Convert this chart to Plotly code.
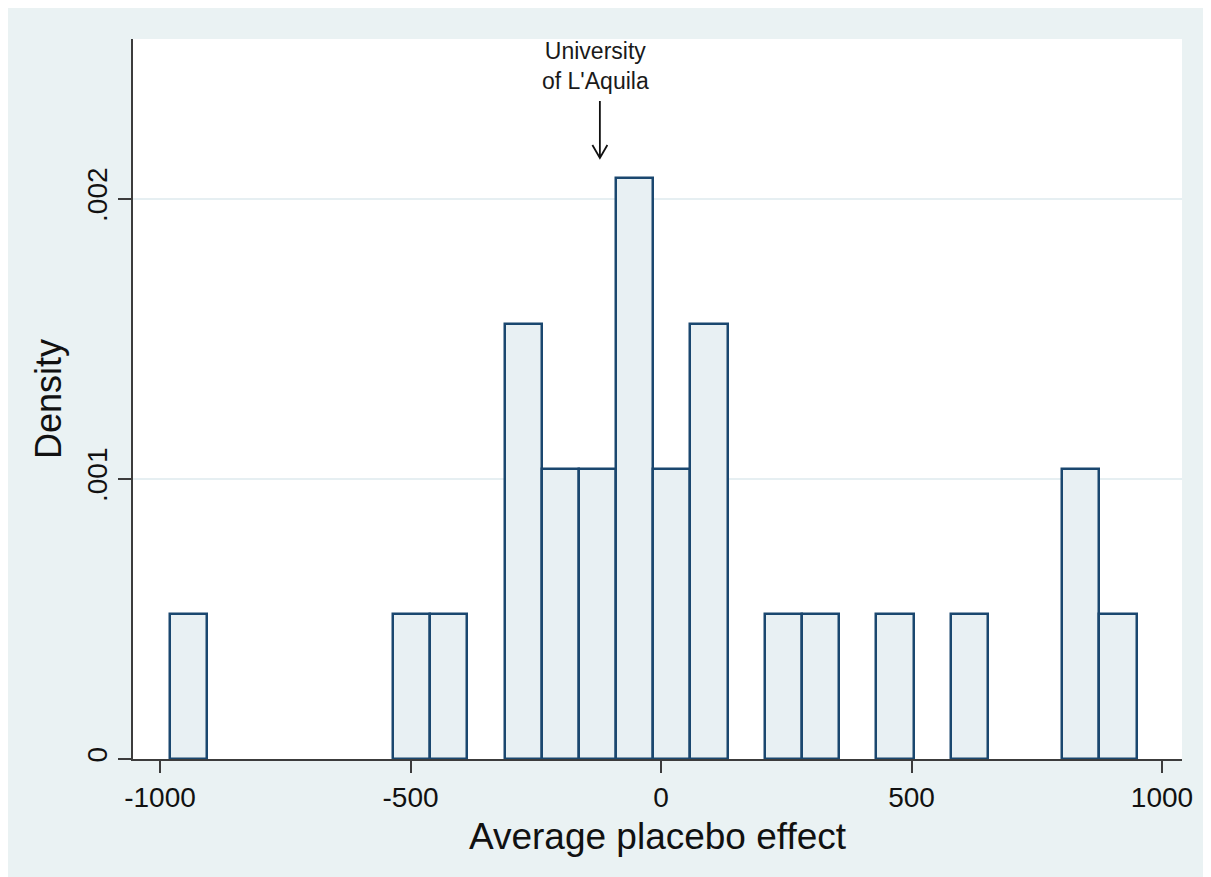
import plotly.graph_objects as go

# ---- data ----
bin_width = 74.2
bin_centers = [-942.9, -497.7, -423.5, -275.1, -200.9, -126.7, -52.5, 21.7,
               95.9, 244.3, 318.5, 466.9, 615.3, 837.9, 912.1]
densities = [0.000518, 0.000518, 0.000518, 0.001555, 0.001037, 0.001037,
             0.002073, 0.001037, 0.001555, 0.000518, 0.000518, 0.000518,
             0.000518, 0.001037, 0.000518]

x_tickvals = [-1000, -500, 0, 500, 1000]
x_ticktext = ["-1000", "-500", "0", "500", "1000"]
y_tickvals = [0, 0.001, 0.002]
y_ticktext = ["0", ".001", ".002"]

label_text = "University<br>of L'Aquila"
label_x = -130
label_y = 0.002475
arrow_x = -122
arrow_tip_y = 0.002146

BG = "#EAF2F3"
NAVY = "#1A476F"
AXIS = "#3c3c3c"
FONT = "Liberation Sans, Arial, sans-serif"

fig = go.Figure()
fig.add_trace(go.Bar(
    x=bin_centers, y=densities, width=bin_width,
    marker=dict(color="#E8F0F3", line=dict(color=NAVY, width=2.5)),
    showlegend=False, hoverinfo="x+y",
))

# arrow (open V head) pointing at the bar
fig.add_shape(type="path", xref="x", yref="y",
              xsizemode="pixel", ysizemode="pixel",
              xanchor=arrow_x, yanchor=arrow_tip_y,
              path="M0,0 L0,57 M-7.5,13 L0,0 L7.5,13",
              line=dict(color="#111111", width=1.8), layer="above")

fig.add_annotation(x=label_x, y=label_y, xref="x", yref="y",
                   text=label_text, showarrow=False,
                   font=dict(family=FONT, size=23, color="#1a1a1a"),
                   xanchor="center", yanchor="middle", align="center")

fig.update_layout(
    width=1203, height=869,
    margin=dict(l=125, r=29, t=31, b=118),
    paper_bgcolor=BG,
    plot_bgcolor="white",
    font=dict(family=FONT, color="#111111"),
    bargap=0,
)
fig.update_xaxes(
    range=[-1053.9, 1039.9],
    tickvals=x_tickvals, ticktext=x_ticktext,
    tickfont=dict(size=28, family=FONT, color="#111111"),
    ticks="outside", ticklen=12, tickwidth=1.8, tickcolor=AXIS,
    showline=True, linecolor=AXIS, linewidth=1.8,
    showgrid=False, zeroline=False,
    title=dict(text="Average placebo effect", font=dict(size=37, family=FONT, color="#111111"), standoff=12),
)
fig.update_yaxes(
    range=[0, 0.002571],
    tickvals=y_tickvals, ticktext=y_ticktext, tickangle=-90,
    tickfont=dict(size=28, family=FONT, color="#111111"),
    ticks="outside", ticklen=13, tickwidth=1.8, tickcolor=AXIS,
    showline=True, linecolor=AXIS, linewidth=1.8,
    showgrid=True, gridcolor="#E6EFF2", gridwidth=1.5,
    zeroline=False,
    title=dict(text="Density", font=dict(size=36, family=FONT, color="#111111"), standoff=9),
)

fig.write_html("out.html")
